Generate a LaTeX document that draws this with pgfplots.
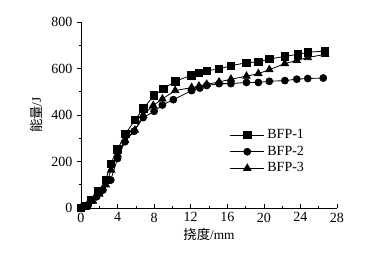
\documentclass[border=0pt]{standalone}
\usepackage{pgfplots}
\pgfplotsset{compat=1.18}
\usepackage{fontspec}
\setmainfont{Liberation Serif}
\newfontfamily\cjk{Noto Sans CJK SC}
\begin{document}
\begin{tikzpicture}
\useasboundingbox (-60.75pt,-41.25pt) rectangle (231.75pt,156pt);
\begin{axis}[
  at={(0,0)}, anchor=south west,
  scale only axis, width=192pt, height=139.5pt,
  xmin=0, xmax=28, ymin=0, ymax=800,
  axis x line*=bottom, axis y line*=left,
  xtick={0,4,...,28}, ytick={0,200,...,800},
  minor x tick num=1, minor y tick num=1,
  xtick align=inside, ytick align=outside,
  major tick length=3pt, minor tick length=1.8pt,
  tick style={black, line width=0.5pt},
  axis line style={line width=0.6pt},
  /pgf/number format/assume math mode=true,
  ticklabel style={font=\fontsize{10.5}{12}\selectfont},
  xlabel={\cjk 挠度\rmfamily/mm}, ylabel={\cjk 能量\rmfamily/J},
  label style={font=\fontsize{10}{12}\selectfont},
  xlabel style={yshift=2pt},
  legend style={draw=none, fill=none, at={(0.575,0.445)}, anchor=north west,
    font=\fontsize{10.5}{12}\selectfont, row sep=0pt, inner sep=1pt},
  legend cell align=left,
  legend image code/.code={\draw[mark repeat=2,mark phase=2] plot coordinates {(0cm,0cm)(0.45cm,0cm)(0.9cm,0cm)};},
  every axis plot/.append style={black, line width=0.6pt},
]
\addplot[mark=square*, mark size=2.8pt] coordinates {
(0,0) (0.5,10) (1.1,35) (1.9,73) (2.7,120) (3.25,190) (4.0,252) (4.85,318) (5.9,378) (6.8,428) (8.0,484) (9.0,512) (10.3,545) (12.1,571) (12.9,581) (13.75,590) (15.1,598) (16.4,612) (18.1,625) (19.4,628) (20.6,641) (22.3,652) (23.7,661) (24.8,670) (26.7,675)
};
\addlegendentry{BFP-1}
\addplot[mark=*, mark size=2.6pt] coordinates {
(0,0) (0.8,13) (1.7,48) (2.4,77) (3.25,120) (4.0,213) (4.8,285) (5.8,330) (6.8,389) (8.0,416) (8.9,443) (10.1,466) (12.1,505) (13.0,516) (13.75,527) (15.1,535) (16.4,535) (18.1,540) (19.4,540) (20.6,545) (22.3,548) (23.6,554) (24.8,557) (26.5,559)
};
\addlegendentry{BFP-2}
\addplot[mark=triangle*, mark size=3.2pt] coordinates {
(0,0) (0.6,8) (1.3,30) (2.0,60) (2.7,100) (3.3,163) (4.0,230) (4.8,290) (5.9,335) (6.8,400) (7.9,441) (8.9,469) (10.3,505) (12.1,518) (12.9,524) (13.75,532) (15.1,542) (16.4,554) (18.1,567) (19.4,578) (20.6,595) (22.3,621) (23.6,635) (24.8,647) (26.7,661)
};
\addlegendentry{BFP-3}
\end{axis}
\end{tikzpicture}
\end{document}
